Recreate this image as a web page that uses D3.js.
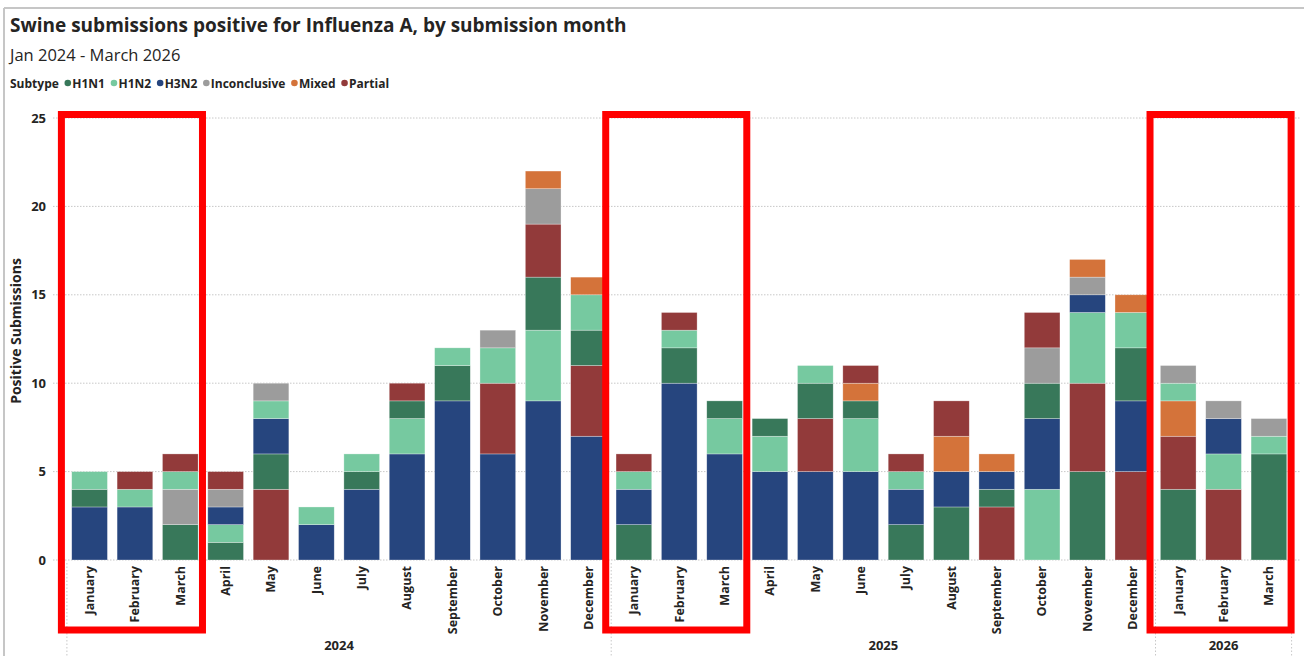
<!DOCTYPE html>
<html><head><meta charset="utf-8">
<script src="https://cdn.jsdelivr.net/npm/d3@7"></script>
<style>body{margin:0;background:#fff} svg{display:block;font-family:"Open Sans","Noto Sans",sans-serif}</style>
</head><body><svg id="c" width="1304" height="656"></svg>
<script>
const subtypes = ["H1N1","H1N2","H3N2","Inconclusive","Mixed","Partial"];
const colors   = ["#38785A","#76C9A0","#26457E","#9C9C9C","#D4733A","#923A3A"];
const monthNames = ["January","February","March","April","May","June","July","August","September","October","November","December"];
const years = ["2024","2025","2026"];
const monthsPerYear = [12,12,3];
const yTicks = [0,5,10,15,20,25];
// Jan 2024 .. Mar 2026
const h1n1   = [1,0,2,1,2,0,1,1,2,0,3,2, 2,2,1,1,2,1,2,3,1,2,5,3, 4,0,6];
const h1n2   = [1,1,1,1,1,1,1,2,1,2,4,2, 1,1,2,2,1,3,1,0,0,4,4,2, 1,2,1];
const h3n2   = [3,3,0,1,2,2,4,6,9,6,9,7, 2,10,6,5,5,5,2,2,1,4,1,4, 0,2,0];
const inconc = [0,0,2,1,1,0,0,0,0,1,2,0, 0,0,0,0,0,0,0,0,0,2,1,0, 1,1,1];
const mixed  = [0,0,0,0,0,0,0,0,0,0,1,1, 0,0,0,0,0,1,0,2,1,0,1,1, 2,0,0];
const partial= [0,1,1,1,4,0,0,1,0,4,3,4, 1,1,0,0,3,1,1,2,3,2,5,5, 3,4,0];
const highlightMonths = [["2024",0,2],["2025",0,2],["2026",0,2]];

const series = [h1n1,h1n2,h3n2,inconc,mixed,partial];
const rows = [];
years.forEach((yr,yi)=>{ for(let m=0;m<monthsPerYear[yi];m++) rows.push({key:yr+"-"+m, year:yr, month:monthNames[m]}); });
rows.forEach((r,i)=>{ r.vals = series.map(s=>s[i]); });

const svg = d3.select("#c");
// frame
svg.append("line").attr("x1",4).attr("x2",1304).attr("y1",8).attr("y2",8).attr("stroke","#c6c6c6").attr("stroke-width",2);
svg.append("line").attr("x1",4).attr("x2",4).attr("y1",8).attr("y2",656).attr("stroke","#c6c6c6").attr("stroke-width",2);

// titles
svg.append("text").attr("x",10).attr("y",32).attr("font-size",19).attr("font-weight",700).attr("fill","#252423")
  .text("Swine submissions positive for Influenza A, by submission month");
svg.append("text").attr("x",10).attr("y",61).attr("font-size",16.5).attr("fill","#252423").text("Jan 2024 - March 2026");

// legend
const lg = svg.append("g").attr("transform","translate(10,83)");
const lt = lg.append("text").attr("y",4.5).attr("font-size",12).attr("font-weight",700).attr("fill","#252423").text("Subtype");
let lx = lt.node().getComputedTextLength() + 6;
subtypes.forEach((s,i)=>{
  lg.append("circle").attr("cx",lx+3).attr("cy",0).attr("r",3.3).attr("fill",colors[i]);
  const t = lg.append("text").attr("x",lx+7.5).attr("y",4.5).attr("font-size",12).attr("font-weight",700).attr("fill","#252423").text(s);
  lx += 7.5 + t.node().getComputedTextLength() + 6;
});

const x = d3.scaleBand().domain(rows.map(r=>r.key)).range([66.9,1291.6]).paddingInner(0.213).paddingOuter(0.1065);
const y = d3.scaleLinear().domain([0,25]).range([560,118]);
const step = x.step(), gap = step - x.bandwidth();

// gridlines
svg.append("g").selectAll("line").data(yTicks).join("line")
  .attr("x1",53).attr("x2",1300).attr("y1",d=>y(d)).attr("y2",d=>y(d))
  .attr("stroke","#c8c8c8").attr("stroke-width",1).attr("stroke-dasharray","1.5,1.5");

// y axis
const ya = svg.append("g").attr("transform","translate(49,0)")
  .call(d3.axisLeft(y).tickValues(yTicks).tickSize(0).tickPadding(3));
ya.select(".domain").remove();
ya.selectAll("text").attr("font-size",13).attr("font-weight",700).attr("fill","#252423").attr("font-family","Open Sans");
svg.append("text").attr("transform","translate(21,331) rotate(-90)").attr("text-anchor","middle")
  .attr("font-size",14).attr("font-weight",700).attr("fill","#252423").text("Positive Submissions");

// stacked bars (sorted by value desc per bar, ties by legend order)
const bars = svg.append("g");
rows.forEach(r=>{
  const order = subtypes.map((s,i)=>i).filter(i=>r.vals[i]>0).sort((a,b)=> (r.vals[b]-r.vals[a]) || (a-b));
  let c = 0;
  order.forEach(i=>{
    const v = r.vals[i];
    bars.append("rect").attr("x",x(r.key)).attr("width",x.bandwidth())
      .attr("y",y(c+v)).attr("height",y(c)-y(c+v))
      .attr("fill",colors[i]).attr("stroke","#ffffff").attr("stroke-opacity",0.5).attr("stroke-width",0.6);
    c += v;
  });
});

// month labels
svg.append("g").selectAll("text").data(rows).join("text")
  .attr("transform",r=>`translate(${x(r.key)+x.bandwidth()/2},566) rotate(-90)`)
  .attr("text-anchor","end").attr("dy","0.35em").attr("font-size",12.5).attr("font-weight",700).attr("fill","#252423")
  .text(r=>r.month);

// year separators & labels
let idx = 0;
const seps = [];
years.forEach((yr,yi)=>{
  const first = rows[idx].key, last = rows[idx+monthsPerYear[yi]-1].key;
  const s = x(first) - gap/2, e = x(last) + x.bandwidth() + gap/2;
  seps.push(s); if(yi===years.length-1) seps.push(e);
  svg.append("text").attr("x",(s+e)/2).attr("y",650).attr("text-anchor","middle")
    .attr("font-size",13).attr("font-weight",700).attr("fill","#252423").text(yr);
  idx += monthsPerYear[yi];
});
svg.append("g").selectAll("line").data(seps).join("line")
  .attr("x1",d=>d).attr("x2",d=>d).attr("y1",563).attr("y2",656)
  .attr("stroke","#c8c8c8").attr("stroke-width",1).attr("stroke-dasharray","1.5,2");

// red highlight boxes
highlightMonths.forEach(([yr,a,b])=>{
  const s = x(yr+"-"+a) - gap/2, e = x(yr+"-"+b) + x.bandwidth() + gap/2;
  svg.append("rect").attr("x",s-9+3.5).attr("y",114.5).attr("width",(e+3)-(s-9)-7).attr("height",630-114.5)
    .attr("fill","none").attr("stroke","#ff0000").attr("stroke-width",7);
});
</script></body></html>
